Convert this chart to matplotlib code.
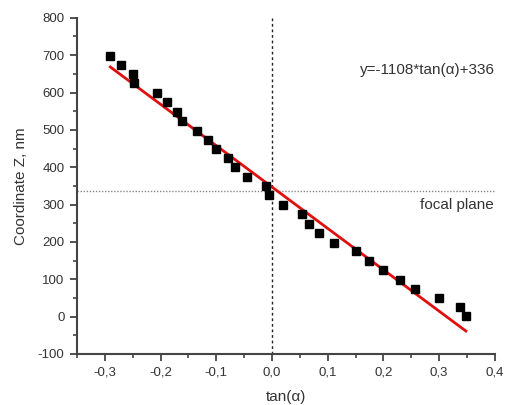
import matplotlib
matplotlib.use("Agg")
import matplotlib.pyplot as plt
from matplotlib.ticker import MultipleLocator, FuncFormatter
import numpy as np

plt.rcParams['font.family'] = ['Liberation Sans', 'DejaVu Sans']
plt.rcParams['axes.unicode_minus'] = False

# measured points (tan(alpha), Z in nm)
tan_alpha = [-0.291, -0.271, -0.249, -0.247, -0.206, -0.189, -0.171, -0.161,
             -0.135, -0.114, -0.101, -0.079, -0.066, -0.044, -0.011, -0.006,
             0.019, 0.054, 0.066, 0.085, 0.111, 0.150, 0.175, 0.200,
             0.229, 0.256, 0.299, 0.338, 0.348]
coord_z = [699, 674, 650, 625, 599, 575, 549, 525,
           498, 474, 450, 424, 400, 374, 350, 326,
           299, 274, 248, 224, 198, 175, 148, 124,
           98, 75, 49, 25, 1]

# linear fit as drawn
fit_slope = -1108
fit_intercept = 347
fit_range = [-0.29, 0.348]
focal_z = 336

text_col = '#333333'
axis_col = '#444444'

fig = plt.figure(figsize=(5.06, 4.05), dpi=100)
ax = fig.add_axes([0.152, 0.126, 0.826, 0.830])

ax.axhline(focal_z, color='#888888', linestyle=(0, (1, 1.2)), linewidth=1.0, zorder=1)
ax.axvline(0, color='#222222', linestyle=(0, (2, 2)), linewidth=1.0, zorder=1)

xf = np.array(fit_range)
ax.plot(xf, fit_slope * xf + fit_intercept, color='#e01010', linewidth=2.0, zorder=2)
ax.plot(tan_alpha, coord_z, 's', color='black', markersize=5.8, zorder=3)

ax.set_xlim(-0.35, 0.4)
ax.set_ylim(-100, 800)
ax.xaxis.set_major_locator(MultipleLocator(0.1))
ax.xaxis.set_minor_locator(MultipleLocator(0.05))
ax.yaxis.set_major_locator(MultipleLocator(100))
ax.yaxis.set_minor_locator(MultipleLocator(50))
ax.xaxis.set_major_formatter(FuncFormatter(lambda v, p: ('%.1f' % v).replace('.', ',').replace('-0,0', '0,0')))

for s in ['top', 'right']:
    ax.spines[s].set_visible(False)
for s in ['left', 'bottom']:
    ax.spines[s].set_color(axis_col)
    ax.spines[s].set_linewidth(1.5)

ax.tick_params(which='major', direction='out', length=5, width=1.3, color=axis_col,
               labelsize=9.5, labelcolor=text_col, pad=4)
ax.tick_params(which='minor', direction='out', length=3, width=1.2, color=axis_col)

ax.set_xlabel('tan(α)', fontsize=11, color=text_col, labelpad=8)
ax.set_ylabel('Coordinate Z, nm', fontsize=11, color=text_col, labelpad=7)

ax.text(0.4, 661, 'y=-1108*tan(α)+336', ha='right', va='center',
        fontsize=11, color=text_col)
ax.text(0.3975, 300, 'focal plane', ha='right', va='center',
        fontsize=11, color=text_col)

fig.savefig('out.png', dpi=100)
